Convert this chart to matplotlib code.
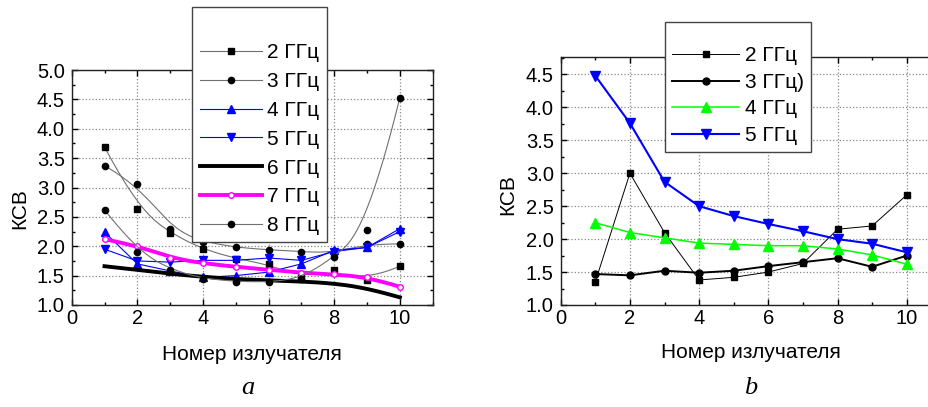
import matplotlib
matplotlib.use('Agg')
import matplotlib.pyplot as plt
from matplotlib.ticker import MultipleLocator
import numpy as np

plt.rcParams['font.family'] = ['Liberation Sans', 'DejaVu Sans']

# номер излучателя
x = np.arange(1, 11)

# панель a: КСВ по частотам
a_2 = [3.69, 2.64, 2.22, 1.95, 1.79, 1.69, 1.47, 1.59, 1.42, 1.66]
a_3 = [3.37, 3.06, 2.29, 2.08, 1.98, 1.94, 1.91, 1.88, 2.04, 2.04]
a_4 = [2.24, 1.70, 1.58, 1.47, 1.50, 1.56, 1.70, 1.93, 1.98, 2.30]
a_5 = [1.95, 1.75, 1.73, 1.76, 1.76, 1.80, 1.76, 1.91, 1.98, 2.25]
a_6 = [1.66, 1.60, 1.53, 1.48, 1.44, 1.42, 1.40, 1.37, 1.29, 1.13]
a_7 = [2.12, 2.01, 1.80, 1.71, 1.65, 1.60, 1.55, 1.52, 1.48, 1.31]
a_8 = [2.62, 1.91, 1.60, 1.45, 1.40, 1.39, 1.45, 1.82, 2.27, 4.53]

# панель b
b_2 = [1.35, 3.00, 2.10, 1.38, 1.42, 1.50, 1.63, 2.15, 2.20, 2.67]
b_3 = [1.47, 1.45, 1.52, 1.49, 1.52, 1.59, 1.65, 1.71, 1.58, 1.75]
b_4 = [2.25, 2.10, 2.02, 1.94, 1.92, 1.90, 1.90, 1.85, 1.76, 1.62]
b_5 = [4.48, 3.76, 2.87, 2.50, 2.35, 2.23, 2.12, 2.00, 1.93, 1.80]


def bspline(xs, ys, k=3, n=300):
    # кривая B-сплайна (как соединение точек в Origin)
    P = np.column_stack([xs, ys]).astype(float)
    m = len(P)
    kn = np.r_[np.zeros(k), np.linspace(0, 1, m - k + 1), np.ones(k)]
    t = np.linspace(0, 1, n)
    t[-1] -= 1e-9
    B = np.array([((kn[i] <= t) & (t < kn[i + 1])).astype(float)
                  for i in range(len(kn) - 1)])
    for d in range(1, k + 1):
        Bn = np.zeros((len(kn) - 1 - d, n))
        for i in range(len(kn) - 1 - d):
            a = kn[i + d] - kn[i]
            b = kn[i + d + 1] - kn[i + 1]
            left = (t - kn[i]) / a * B[i] if a > 0 else 0
            right = (kn[i + d + 1] - t) / b * B[i + 1] if b > 0 else 0
            Bn[i] = left + right
        B = Bn
    c = B.T @ P
    return c[:, 0], c[:, 1]


def style_axes(ax, ymax):
    ax.set_xlim(0, 11)
    ax.set_ylim(1.0, ymax)
    ax.xaxis.set_major_locator(MultipleLocator(2))
    ax.xaxis.set_minor_locator(MultipleLocator(1))
    ax.yaxis.set_major_locator(MultipleLocator(0.5))
    ax.yaxis.set_minor_locator(MultipleLocator(0.25))
    ax.yaxis.set_major_formatter(matplotlib.ticker.FormatStrFormatter('%.1f'))
    ax.tick_params(which='both', direction='in', top=True, right=True, labelsize=14.5)
    ax.tick_params(which='major', length=4, width=1)
    ax.tick_params(which='minor', length=2, width=1)
    ax.tick_params(axis='y', pad=5)
    ax.tick_params(axis='x', pad=3)
    ax.grid(True, which='major', linestyle=':', color='#888888', linewidth=0.9)
    for s in ax.spines.values():
        s.set_linewidth(1.0)
        s.set_color('#222222')


fig = plt.figure(figsize=(9.29, 4.07), dpi=100)
ax1 = fig.add_axes([71.7 / 929, 102 / 407, 361 / 929, 235 / 407])
ax2 = fig.add_axes([560.7 / 929, 102 / 407, 380.6 / 929, 247.7 / 407])

gray = '#707070'

sx, sy = bspline(x, a_2)
ax1.plot(sx, sy, color=gray, lw=0.8)
ax1.plot(x, a_2, 's', color='black', ms=4.8)
sx, sy = bspline(x, a_3)
ax1.plot(sx, sy, color=gray, lw=0.8)
ax1.plot(x, a_3, 'o', color='black', ms=4.5)
ax1.plot(x, a_4, '-^', color='#0000ff', lw=0.8, ms=6)
ax1.plot(x, a_5, '-v', color='#0000ff', lw=0.8, ms=6)
sx, sy = bspline(x, a_6)
ax1.plot(sx, sy, color='black', lw=2.8)
sx, sy = bspline(x, a_7)
ax1.plot(sx, sy, color='#ff00ff', lw=2.8)
ax1.plot(x, a_7, 'o', mfc='white', mec='#ff00ff', mew=1, ms=4)
sx, sy = bspline(x, a_8)
ax1.plot(sx, sy, color=gray, lw=0.8)
ax1.plot(x, a_8, 'o', color='black', ms=4.5)

# легенда a
L = matplotlib.lines.Line2D
h1 = [L([], [], color=gray, lw=0.8, marker='s', mfc='black', mec='black', ms=4.8),
      L([], [], color=gray, lw=0.8, marker='o', mfc='black', mec='black', ms=4.5),
      L([], [], color='#0000ff', lw=0.8, marker='^', ms=6),
      L([], [], color='#0000ff', lw=0.8, marker='v', ms=6),
      L([], [], color='black', lw=2.8),
      L([], [], color='#ff00ff', lw=2.8, marker='o', mfc='white', mec='#ff00ff', ms=4),
      L([], [], color=gray, lw=0.8, marker='o', mfc='black', mec='black', ms=4.5)]
labs1 = ['2 ГГц', '3 ГГц', '4 ГГц', '5 ГГц', '6 ГГц', '7 ГГц', '8 ГГц']
leg1 = ax1.legend(h1, labs1, loc='upper left', bbox_to_anchor=(192.3 / 929, 1 - 7.3 / 407),
                  bbox_transform=fig.transFigure, borderaxespad=0, fontsize=15,
                  handlelength=3.0, handletextpad=0.25, labelspacing=0.47, borderpad=0.35,
                  fancybox=False, framealpha=1, edgecolor='#444444', title=' ', title_fontsize=15)
leg1.get_frame().set_linewidth(1.0)
leg1.set_zorder(10)

# панель b
ax2.plot(x, b_2, '-s', color='black', lw=0.7, ms=4.8)
ax2.plot(x, b_3, '-o', color='black', lw=1.4, ms=5)
ax2.plot(x, b_4, '-^', color='#00ff00', lw=1.1, ms=6.5)
ax2.plot(x, b_5, '-v', color='#0000ff', lw=1.5, ms=6.5)
leg2 = ax2.legend(['2 ГГц', '3 ГГц)', '4 ГГц', '5 ГГц'], loc='upper left',
                  bbox_to_anchor=(665 / 929, 1 - 21.7 / 407), bbox_transform=fig.transFigure,
                  borderaxespad=0, fontsize=15, handlelength=3.2, handletextpad=0.3,
                  labelspacing=0.36, borderpad=0.35, fancybox=False, framealpha=1,
                  edgecolor='#444444', title=' ', title_fontsize=8)
leg2.get_frame().set_linewidth(1.0)
leg2.set_zorder(10)

style_axes(ax1, 5.0)
style_axes(ax2, 4.76)
ax2.set_yticks(np.arange(1.0, 4.51, 0.5))

fig.text(20 / 929, 1 - 209 / 407, 'КСВ', rotation=90, ha='center', va='center', fontsize=15)
fig.text(508 / 929, 1 - 195 / 407, 'КСВ', rotation=90, ha='center', va='center', fontsize=15)
fig.text(252 / 929, 1 - 355 / 407, 'Номер излучателя', ha='center', va='center', fontsize=15)
fig.text(751 / 929, 1 - 353 / 407, 'Номер излучателя', ha='center', va='center', fontsize=15)
fig.text(248 / 929, 1 - 388 / 407, 'a', ha='center', va='center', fontsize=19,
         family='Liberation Serif', style='italic')
fig.text(751 / 929, 1 - 388 / 407, 'b', ha='center', va='center', fontsize=19,
         family='Liberation Serif', style='italic')

fig.savefig('out.png', dpi=100)
